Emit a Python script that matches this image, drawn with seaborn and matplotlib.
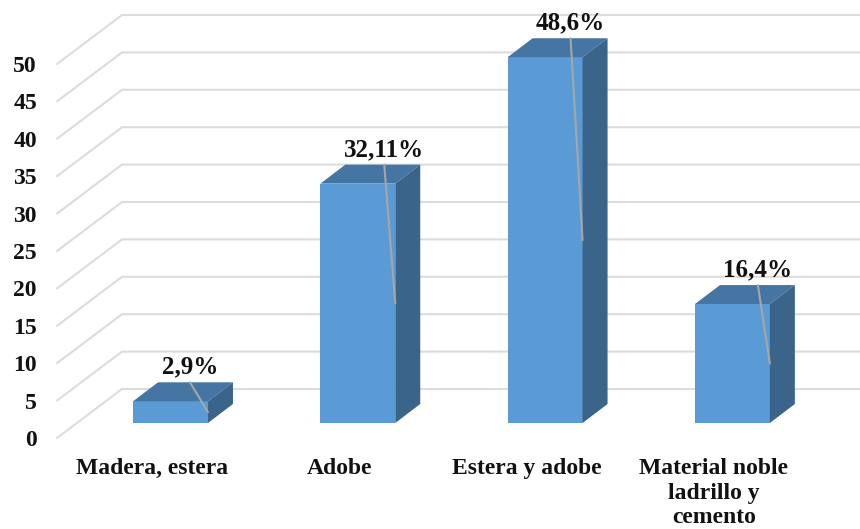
import matplotlib
matplotlib.use("Agg")
import matplotlib.pyplot as plt
import matplotlib.transforms as mtransforms
import pandas as pd
import seaborn as sns

# Values
materiales = ["Madera, estera", "Adobe", "Estera y adobe", "Material noble\nladrillo y\ncemento"]
alturas = [2.9, 32.0, 48.9, 15.9]
etiquetas = ["2,9%", "32,11%", "48,6%", "16,4%"]
y_ticks = [0, 5, 10, 15, 20, 25, 30, 35, 40, 45, 50]

# Layout of the fake 3D box, in pixels of the 860x529 picture
PX_CAT = 187.3
PX_VAL = 7.48
LEFT, BOTTOM = 57, 423
leader_dx = [18, 11, 12, 12]

sns.set_theme(style="white")
plt.rcParams["font.family"] = ["Liberation Serif", "DejaVu Serif"]
plt.rcParams["font.weight"] = "bold"

fig = plt.figure(figsize=(8.6, 5.29), dpi=100)
ax = fig.add_axes([LEFT / 860, (529 - BOTTOM) / 529, 1 - LEFT / 860, BOTTOM / 529])

df = pd.DataFrame({"material": materiales, "valor": alturas})
sns.barplot(data=df, x="material", y="valor", color="#5B9BD5", saturation=1,
            width=0.4, ax=ax, zorder=3, linewidth=0)

ax.set_xlim((LEFT - 170.5) / PX_CAT, (860 - 170.5) / PX_CAT)
ax.set_ylim(0, BOTTOM / PX_VAL)
ax.set_xlabel("")
ax.set_ylabel("")
sns.despine(ax=ax, left=True, bottom=True)


def px(dx, dy):
    # pixel offset to data units
    return dx / PX_CAT, dy / PX_VAL


# Back wall and side wall lines
x0 = ax.get_xlim()[0]
x1 = ax.get_xlim()[1]
wall_dx, wall_dy = px(65, 49)
front_drop = px(0, 15)[1]
for v in y_ticks:
    ax.plot([x0, x0 + wall_dx, x1],
            [v - front_drop, v - front_drop + wall_dy, v - front_drop + wall_dy],
            color="#DCDCDC", lw=1.5, clip_on=False, zorder=1)

# Top and side of each bar, leader line and label
depth_x, depth_y = px(25, 19)
for i, bar in enumerate(ax.patches):
    left = bar.get_x()
    right = left + bar.get_width()
    top = bar.get_height()
    ax.fill([left, right, right + depth_x, left + depth_x],
            [top, top, top + depth_y, top + depth_y],
            color="#4475A3", lw=0, zorder=3, clip_on=False)
    ax.fill([right, right + depth_x, right + depth_x, right],
            [0, depth_y, top + depth_y, top],
            color="#3A6489", lw=0, zorder=3, clip_on=False)
    start_x = right - px(leader_dx[i], 0)[0]
    start_y = top + depth_y
    ax.plot([start_x, right], [start_y, top / 2], color="#A6A6A6", lw=1.5,
            zorder=4, clip_on=False)
    ax.text(start_x, start_y + px(0, 15)[1], etiquetas[i], ha="center", va="center",
            fontsize=18, fontweight="bold", color="#111111", zorder=5, clip_on=False)

# Tick labels are shifted to sit on the front edge of the floor
ax.set_yticks(y_ticks)
ax.set_yticklabels([str(v) for v in y_ticks])
ax.tick_params(axis="y", length=0, pad=14.4, labelsize=17, labelcolor="#111111")
ax.tick_params(axis="x", length=0, pad=25, labelsize=17, labelcolor="#111111")
ax.set_xticks(range(len(materiales)))
ax.set_xticklabels(materiales, linespacing=1.24)

shift_y = mtransforms.ScaledTranslation(0, -15 / 100, fig.dpi_scale_trans)
for lab in ax.get_yticklabels():
    lab.set_transform(lab.get_transform() + shift_y)
    lab.set_fontweight("bold")
shift_x = mtransforms.ScaledTranslation(-18.5 / 100, 0, fig.dpi_scale_trans)
for lab in ax.get_xticklabels():
    lab.set_transform(lab.get_transform() + shift_x)
    lab.set_fontweight("bold")

fig.savefig("out.png", dpi=100)
